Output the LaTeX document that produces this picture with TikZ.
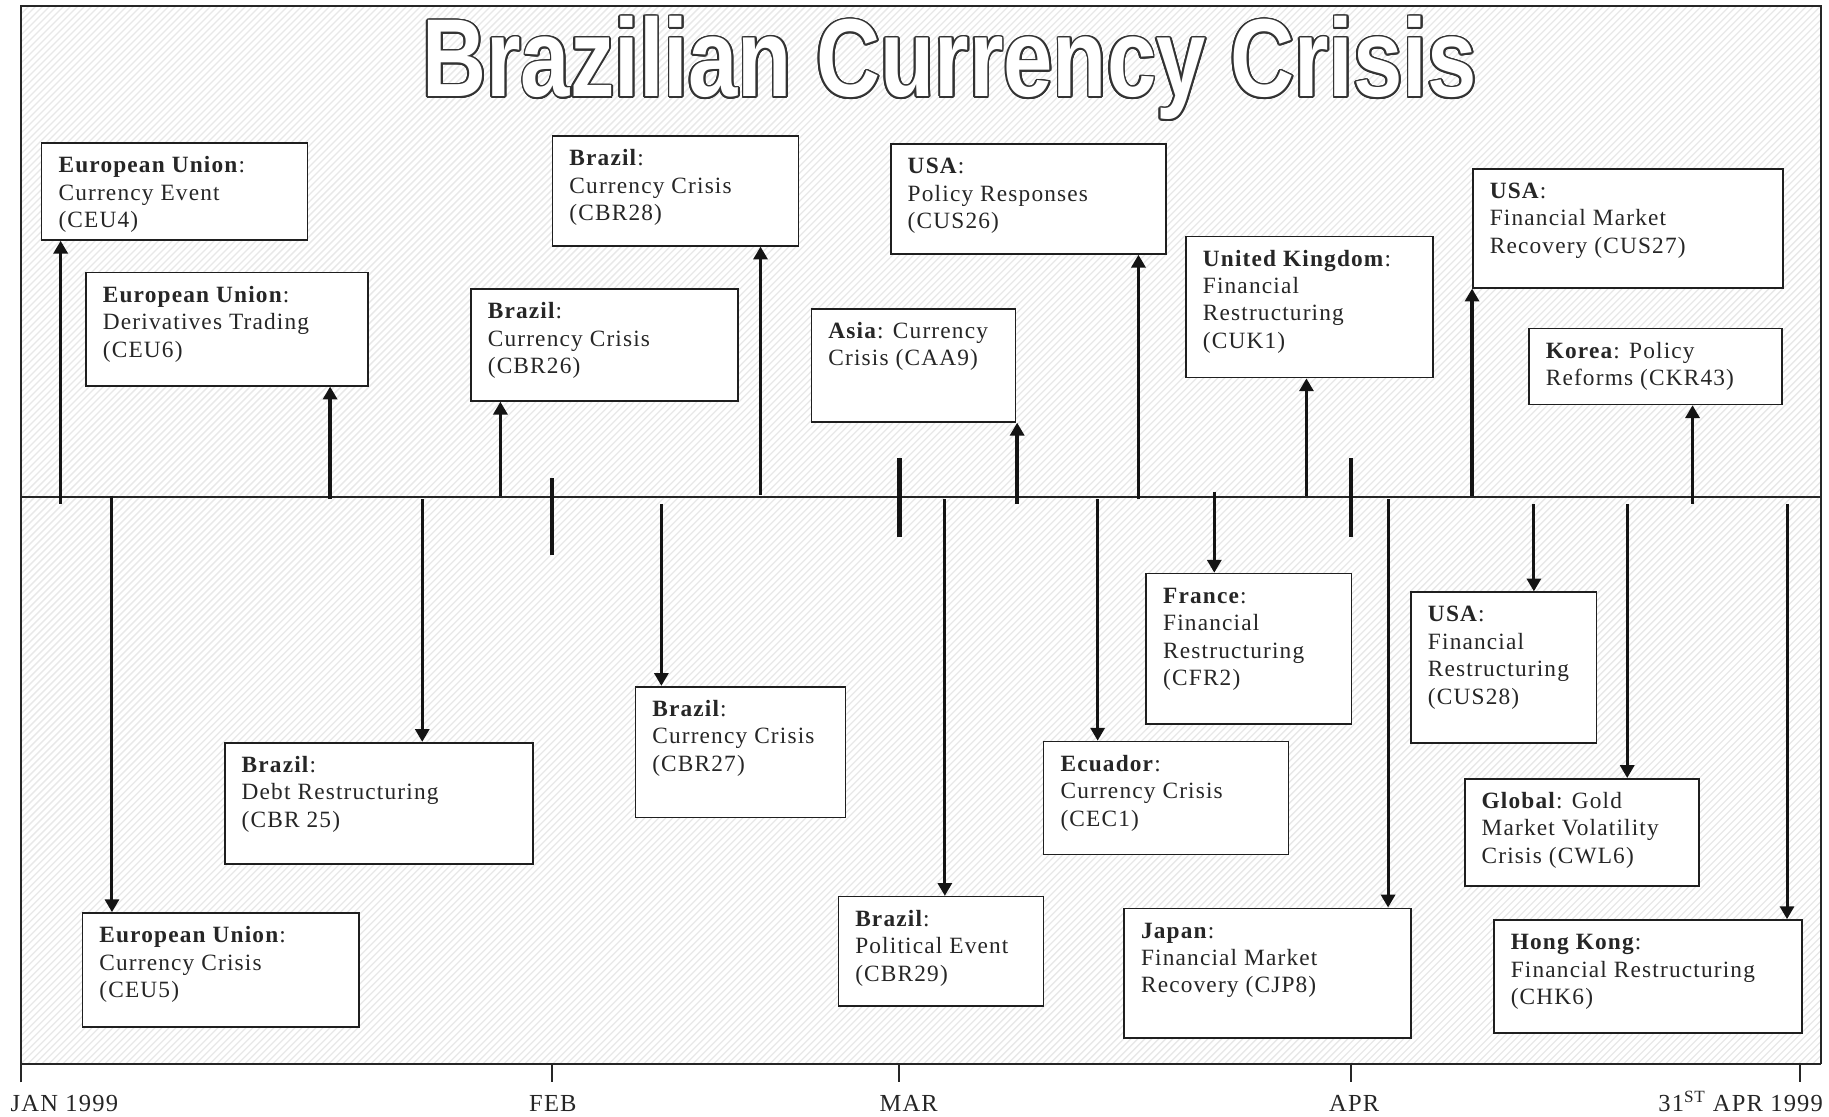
\documentclass[tikz,border=0pt]{standalone}
\usepackage{graphicx}
\usepackage{fontspec}
\setmainfont{Liberation Serif}[LetterSpace=5]
\newfontfamily\titlefont{Liberation Sans}
\usetikzlibrary{arrows.meta}

\newcommand\evfont{\fontsize{20}{23.5}\selectfont}
\newcommand\lblfont{\fontsize{21}{24}\selectfont}
\newcommand\ttltext{\scalebox{0.80}[1]{\titlefont\bfseries\fontsize{95}{95}\selectfont Brazilian Currency Crisis}}

% event box: name, left, top, right, bottom, text
\newcommand\eventbox[6]{%
  \node[evbox, anchor=north west, minimum width=#4-#2, minimum height=#5-#3] (#1) at (#2,#3) {};
  \node[evtext] (#1t) at ([xshift=15pt, yshift=-9.5pt]#1.north west) {\strut #6};
}

\begin{document}
\begin{tikzpicture}[x=1pt, y=-1pt,
  evbox/.style={draw=black!88, line width=1.4pt, fill=white, inner sep=0pt},
  evtext/.style={anchor=north west, inner sep=0pt, align=left, font=\evfont, text=black!85},
  uparr/.style={draw=black!92, line width=3pt, -{Triangle[length=11pt, width=12pt]}},
  dnarr/.style={draw=black!92, line width=2.6pt, -{Triangle[length=11pt, width=12pt]}},
  month/.style={draw=black!92, line width=3.8pt},
  frameline/.style={draw=black!85, line width=1.5pt},
  hatch/.style={draw=black!9, line width=1.1pt},
  axislbl/.style={inner sep=0pt, font=\lblfont, text=black!85}
]
\useasboundingbox (0,0) rectangle (1568,957);
\fill[white] (0,0) rectangle (1568,957);

% hatched background inside the frame
\begin{scope}
  \clip (18,5) rectangle (1561,912);
  \foreach \i in {-912,-906,...,1566} \draw[hatch] (\i,912) -- ++(912,-912);
\end{scope}

% outlined title
\foreach \a in {0,20,...,340}
  \node[anchor=base west, inner sep=0pt, text=black!80] (tsh\a) at ([shift={(\a:1.5pt)}]362,83) {\ttltext};
\node[anchor=base west, inner sep=0pt, text=white] (title) at (362,83) {\ttltext};

% frame, timeline axis and month marks
\draw[frameline] (18,928) -- (18,5) -- (1561,5) -- (1561,912);
\draw[frameline] (18,912) -- (1561,912);
\draw[frameline] (18,426) -- (1561,426);
\foreach \x in {473,771,1158,1543} \draw[frameline] (\x,912) -- (\x,928);
\draw[month] (473,410) -- (473,476);
\draw[month] (771,393) -- (771,460);
\draw[month] (1158,393) -- (1158,460);

% events above the axis
\eventbox{ceu4}{35}{122}{263}{205}{\textbf{European Union}:\\Currency Event\\(CEU4)}
\eventbox{ceu6}{73}{233}{315}{330}{\textbf{European Union}:\\Derivatives Trading\\(CEU6)}
\eventbox{cbr26}{403}{247}{632}{343}{\textbf{Brazil}:\\Currency Crisis\\(CBR26)}
\eventbox{cbr28}{473}{116}{684}{210}{\textbf{Brazil}:\\Currency Crisis\\(CBR28)}
\eventbox{caa9}{695}{264}{870}{361}{\textbf{Asia}: Currency\\Crisis (CAA9)}
\eventbox{cus26}{763}{123}{999}{217}{\textbf{USA}:\\Policy Responses\\(CUS26)}
\eventbox{cuk1}{1016}{202}{1228}{323}{\textbf{United Kingdom}:\\Financial\\Restructuring\\(CUK1)}
\eventbox{cus27}{1262}{144}{1528}{246}{\textbf{USA}:\\Financial Market\\Recovery (CUS27)}
\eventbox{ckr43}{1310}{281}{1527}{346}{\textbf{Korea}: Policy\\Reforms (CKR43)}

% events below the axis
\eventbox{ceu5}{70}{782}{307}{880}{\textbf{European Union}:\\Currency Crisis\\(CEU5)}
\eventbox{cbr25}{192}{636}{456}{740}{\textbf{Brazil}:\\Debt Restructuring\\(CBR 25)}
\eventbox{cbr27}{544}{588}{724}{700}{\textbf{Brazil}:\\Currency Crisis\\(CBR27)}
\eventbox{cbr29}{718}{768}{894}{862}{\textbf{Brazil}:\\Political Event\\(CBR29)}
\eventbox{cec1}{894}{635}{1104}{732}{\textbf{Ecuador}:\\Currency Crisis\\(CEC1)}
\eventbox{cfr2}{982}{491}{1158}{620}{\textbf{France}:\\Financial\\Restructuring\\(CFR2)}
\eventbox{cjp8}{963}{778}{1209}{889}{\textbf{Japan}:\\Financial Market\\Recovery (CJP8)}
\eventbox{cus28}{1209}{507}{1368}{636}{\textbf{USA}:\\Financial\\Restructuring\\(CUS28)}
\eventbox{cwl6}{1255}{667}{1456}{759}{\textbf{Global}: Gold\\Market Volatility\\Crisis (CWL6)}
\eventbox{chk6}{1280}{788}{1544}{885}{\textbf{Hong Kong}:\\Financial Restructuring\\(CHK6)}

% points on the axis where the arrows start
\coordinate (pceu4) at (52,432);
\coordinate (pceu6) at (283,428);
\coordinate (pcbr26) at (429,425);
\coordinate (pcbr28) at (652,424);
\coordinate (pcaa9) at (872,432);
\coordinate (pcus26) at (976,428);
\coordinate (pcuk1) at (1120,425);
\coordinate (pcus27) at (1262,425);
\coordinate (pckr43) at (1451,432);
\coordinate (pceu5) at (96,425);
\coordinate (pcbr25) at (362,428);
\coordinate (pcbr27) at (567,432);
\coordinate (pcbr29) at (810,428);
\coordinate (pcec1) at (941,428);
\coordinate (pcfr2) at (1041,422);
\coordinate (pcjp8) at (1190,428);
\coordinate (pcus28) at (1315,432);
\coordinate (pcwl6) at (1395,432);
\coordinate (pchk6) at (1532,432);

\foreach \n in {ceu4,ceu6,cbr26,cbr28,caa9,cus26,cuk1,cus27,ckr43}
  \draw[uparr] (p\n) -- (p\n |- \n.south);
\foreach \n in {ceu5,cbr25,cbr27,cbr29,cec1,cfr2,cjp8,cus28,cwl6,chk6}
  \draw[dnarr] (p\n) -- (p\n |- \n.north);

% month labels
\node[axislbl, anchor=base west] (ljan) at (9,953) {JAN 1999};
\node[axislbl, anchor=base] (lfeb) at (474,953) {FEB};
\node[axislbl, anchor=base] (lmar) at (779,953) {MAR};
\node[axislbl, anchor=base] (lapr) at (1161,953) {APR};
\node[axislbl, anchor=base east] (lend) at (1563,953) {31\textsuperscript{ST} APR 1999};
\end{tikzpicture}
\end{document}
